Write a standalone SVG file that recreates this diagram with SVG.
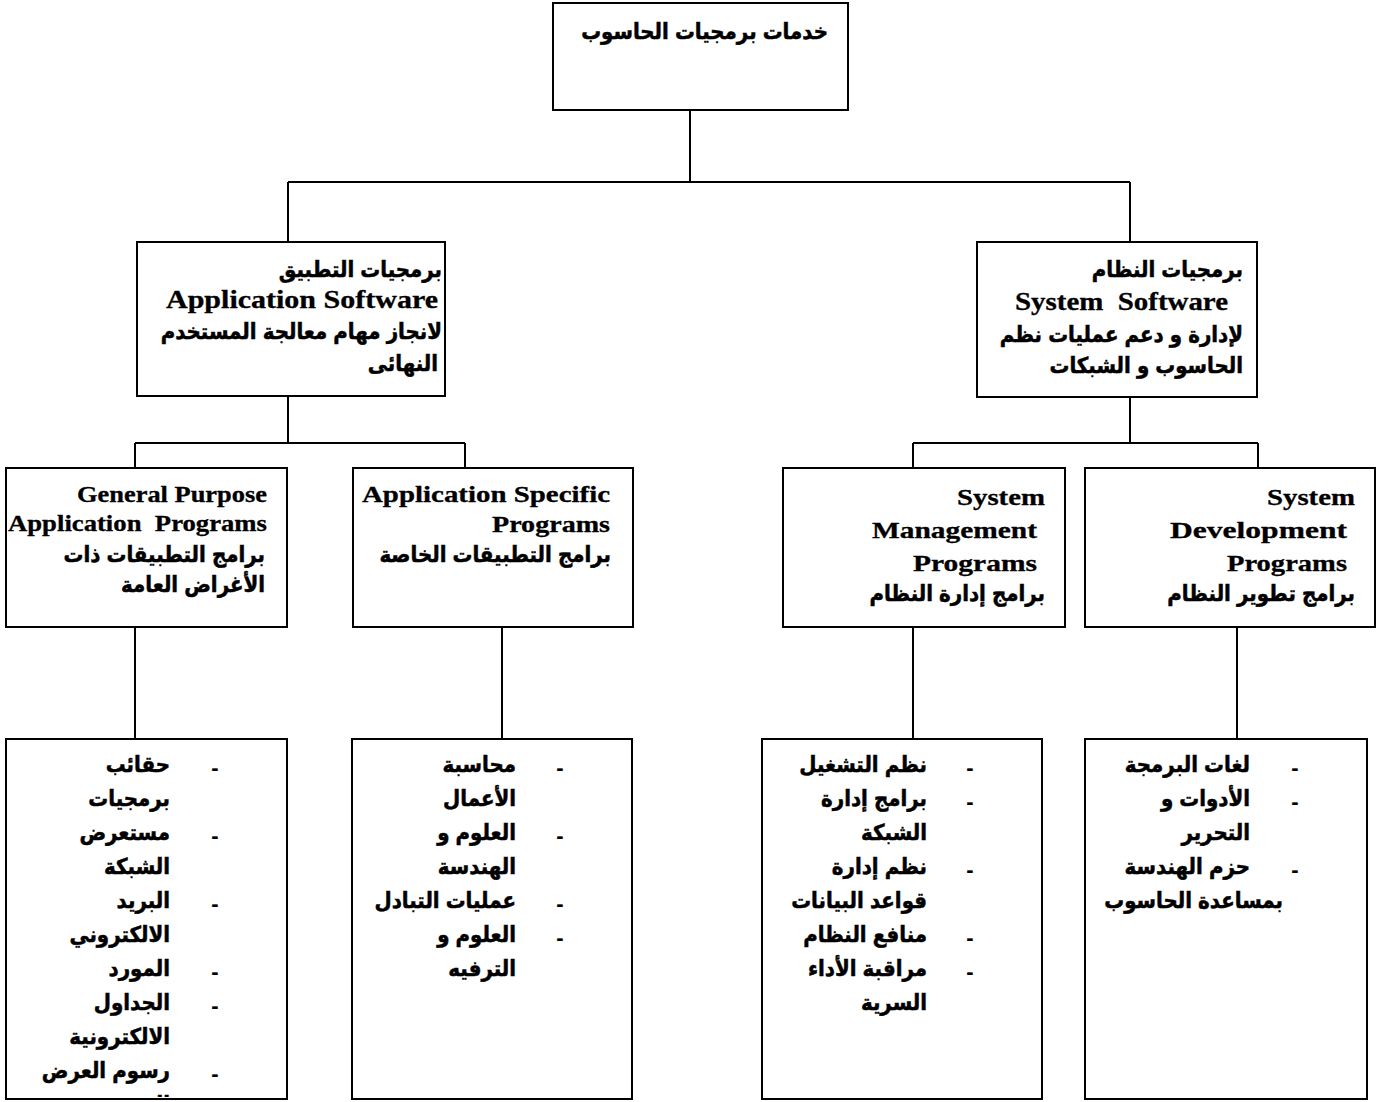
<svg xmlns="http://www.w3.org/2000/svg" width="1380" height="1102" viewBox="0 0 1380 1102">
  <style>
    .box { fill: #ffffff; stroke: #000000; stroke-width: 2; }
    .wire { fill: none; stroke: #000000; stroke-width: 2; }
    .ar { font-family: "Liberation Sans", "DejaVu Sans Condensed", "DejaVu Sans", sans-serif; font-stretch: condensed; font-weight: bold; font-size: 22px; fill: #000000; stroke: #000000; stroke-width: 0.5; text-anchor: end; }
    .en { font-family: "Liberation Serif", "Times New Roman", serif; font-weight: bold; font-size: 25px; fill: #000000; stroke: #000000; stroke-width: 0.3; white-space: pre; }
    .en3 { font-family: "Liberation Serif", "Times New Roman", serif; font-weight: bold; font-size: 23px; fill: #000000; stroke: #000000; stroke-width: 0.3; white-space: pre; }
    .dash { font-family: "Liberation Sans", sans-serif; font-weight: bold; font-size: 22px; fill: #000000; text-anchor: middle; }
  </style>
  <defs>
    <clipPath id="clip-b1">
      <rect x="7" y="740" width="279" height="357"/>
    </clipPath>
  </defs>
  <rect width="1380" height="1102" fill="#ffffff"/>

  <!-- connectors -->
  <g id="connectors">
    <path class="wire" d="M690 110 V182 M288 182 H1130 M288 182 V242 M1130 182 V242"/>
    <path class="wire" d="M288 396 V443 M135 443 H465 M135 443 V468 M465 443 V468"/>
    <path class="wire" d="M1130 397 V443 M913 443 H1258 M913 443 V468 M1258 443 V468"/>
    <path class="wire" d="M135 627 V739 M502 627 V739 M913 627 V739 M1237 627 V739"/>
  </g>

  <!-- root -->
  <g id="node-root">
    <rect class="box" x="553" y="3" width="295" height="107"/>
    <text class="ar" x="828" y="39">خدمات برمجيات الحاسوب</text>
  </g>

  <!-- application software -->
  <g id="node-application-software">
    <rect class="box" x="137" y="242" width="308" height="154"/>
    <text class="ar" x="442" y="277">برمجيات التطبيق</text>
    <text class="en" x="166" y="308" textLength="272" lengthAdjust="spacingAndGlyphs">Application Software</text>
    <text class="ar" x="442" y="339">لانجاز مهام معالجة المستخدم</text>
    <text class="ar" x="438" y="371">النهائى</text>
  </g>

  <!-- system software -->
  <g id="node-system-software">
    <rect class="box" x="977" y="242" width="280" height="155"/>
    <text class="ar" x="1243" y="277">برمجيات النظام</text>
    <text class="en" x="1015" y="310" textLength="213" lengthAdjust="spacingAndGlyphs">System  Software</text>
    <text class="ar" x="1243" y="342">لإدارة و دعم عمليات نظم</text>
    <text class="ar" x="1243" y="373">الحاسوب و الشبكات</text>
  </g>

  <!-- general purpose application programs -->
  <g id="node-general-purpose">
    <rect class="box" x="6" y="468" width="281" height="159"/>
    <text class="en3" x="77" y="502" textLength="190" lengthAdjust="spacingAndGlyphs">General Purpose</text>
    <text class="en3" x="8" y="531" textLength="259" lengthAdjust="spacingAndGlyphs">Application  Programs</text>
    <text class="ar" x="265" y="562">برامج التطبيقات ذات</text>
    <text class="ar" x="265" y="592">الأغراض العامة</text>
  </g>

  <!-- application specific programs -->
  <g id="node-application-specific">
    <rect class="box" x="353" y="468" width="280" height="159"/>
    <text class="en3" x="362" y="502" textLength="248" lengthAdjust="spacingAndGlyphs">Application Specific</text>
    <text class="en3" x="492" y="532" textLength="118" lengthAdjust="spacingAndGlyphs">Programs</text>
    <text class="ar" x="611" y="562">برامج التطبيقات الخاصة</text>
  </g>

  <!-- system management programs -->
  <g id="node-system-management">
    <rect class="box" x="783" y="468" width="282" height="159"/>
    <text class="en3" x="957" y="505" textLength="88" lengthAdjust="spacingAndGlyphs">System</text>
    <text class="en3" x="872" y="538" textLength="165" lengthAdjust="spacingAndGlyphs">Management</text>
    <text class="en3" x="913" y="571" textLength="124" lengthAdjust="spacingAndGlyphs">Programs</text>
    <text class="ar" x="1045" y="601">برامج إدارة النظام</text>
  </g>

  <!-- system development programs -->
  <g id="node-system-development">
    <rect class="box" x="1085" y="468" width="290" height="159"/>
    <text class="en3" x="1267" y="505" textLength="88" lengthAdjust="spacingAndGlyphs">System</text>
    <text class="en3" x="1170" y="538" textLength="177" lengthAdjust="spacingAndGlyphs">Development</text>
    <text class="en3" x="1227" y="571" textLength="120" lengthAdjust="spacingAndGlyphs">Programs</text>
    <text class="ar" x="1355" y="601">برامج تطوير النظام</text>
  </g>

  <!-- general purpose examples -->
  <g id="node-gp-list">
    <rect class="box" x="6" y="739" width="281" height="360"/>
    <g clip-path="url(#clip-b1)">
      <text class="dash" x="215" y="775">-</text>
      <text class="ar" x="170" y="772">حقائب</text>
      <text class="ar" x="170" y="806">برمجيات</text>
      <text class="dash" x="215" y="843">-</text>
      <text class="ar" x="170" y="840">مستعرض</text>
      <text class="ar" x="170" y="874">الشبكة</text>
      <text class="dash" x="215" y="911">-</text>
      <text class="ar" x="170" y="908">البريد</text>
      <text class="ar" x="170" y="942">الالكتروني</text>
      <text class="dash" x="215" y="979">-</text>
      <text class="ar" x="170" y="976">المورد</text>
      <text class="dash" x="215" y="1013">-</text>
      <text class="ar" x="170" y="1010">الجداول</text>
      <text class="ar" x="170" y="1044">الالكترونية</text>
      <text class="dash" x="215" y="1081">-</text>
      <text class="ar" x="170" y="1078">رسوم العرض</text>
      <text class="ar" x="170" y="1112">التقديمية</text>
    </g>
  </g>

  <!-- application specific examples -->
  <g id="node-as-list">
    <rect class="box" x="352" y="739" width="280" height="360"/>
    <text class="dash" x="560" y="775">-</text>
    <text class="ar" x="516" y="772">محاسبة</text>
    <text class="ar" x="516" y="806">الأعمال</text>
    <text class="dash" x="560" y="843">-</text>
    <text class="ar" x="516" y="840">العلوم و</text>
    <text class="ar" x="516" y="874">الهندسة</text>
    <text class="dash" x="560" y="911">-</text>
    <text class="ar" x="516" y="908">عمليات التبادل</text>
    <text class="dash" x="560" y="945">-</text>
    <text class="ar" x="516" y="942">العلوم و</text>
    <text class="ar" x="516" y="976">الترفيه</text>
  </g>

  <!-- system management examples -->
  <g id="node-sm-list">
    <rect class="box" x="762" y="739" width="280" height="360"/>
    <text class="dash" x="970" y="775">-</text>
    <text class="ar" x="927" y="772">نظم التشغيل</text>
    <text class="dash" x="970" y="809">-</text>
    <text class="ar" x="927" y="806">برامج إدارة</text>
    <text class="ar" x="927" y="840">الشبكة</text>
    <text class="dash" x="970" y="877">-</text>
    <text class="ar" x="927" y="874">نظم إدارة</text>
    <text class="ar" x="927" y="908">قواعد البيانات</text>
    <text class="dash" x="970" y="945">-</text>
    <text class="ar" x="927" y="942">منافع النظام</text>
    <text class="dash" x="970" y="979">-</text>
    <text class="ar" x="927" y="976">مراقبة الأداء</text>
    <text class="ar" x="927" y="1010">السرية</text>
  </g>

  <!-- system development examples -->
  <g id="node-sd-list">
    <rect class="box" x="1085" y="739" width="282" height="360"/>
    <text class="dash" x="1295" y="775">-</text>
    <text class="ar" x="1250" y="772">لغات البرمجة</text>
    <text class="dash" x="1295" y="809">-</text>
    <text class="ar" x="1250" y="806">الأدوات و</text>
    <text class="ar" x="1250" y="840">التحرير</text>
    <text class="dash" x="1295" y="877">-</text>
    <text class="ar" x="1250" y="874">حزم الهندسة</text>
    <text class="ar" x="1283" y="908">بمساعدة الحاسوب</text>
  </g>
</svg>
